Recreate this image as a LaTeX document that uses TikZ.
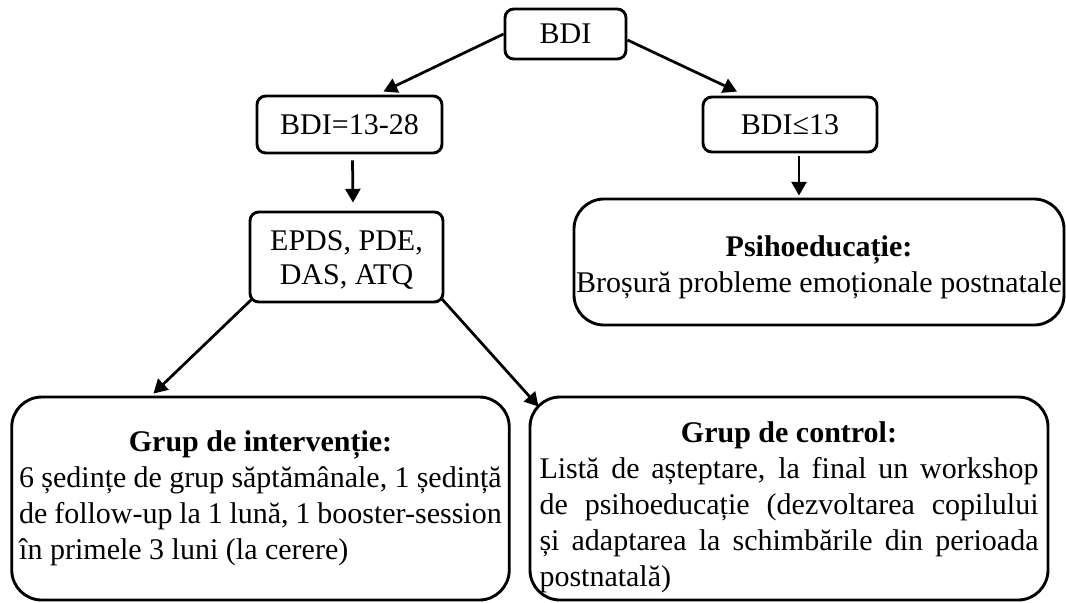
\documentclass[tikz,border=0pt]{standalone}
\usepackage{fontspec}
\setmainfont{Liberation Serif}
\usetikzlibrary{
    arrows.meta,
    positioning,
    calc
}
\tikzset{
    % Boxes
    box/.style={draw,rectangle,line width=1.15pt,rounded corners=3.5pt,align=center,inner sep=0pt},
    big box/.style={box,rounded corners=12pt},
    %
    % Arrows
    arrow tip/.tip={Triangle[length=5.5pt,width=6pt]},
    arr/.style={-{arrow tip},line width=1.1pt},
}
\tikzstyle{every node}=[font=\fontsize{12}{14.4}\selectfont]
% lines for the wide boxes: centred title, stretched line, plain last line
% (\spaceskip reset, so the font's own word spaces are used)
\newcommand{\titleline}[2][0pt]{\makebox[\hsize]{\spaceskip=0pt\rule{0pt}{#1}\textbf{#2}}}
\newcommand{\midline}[1]{\makebox[\hsize]{\spaceskip=0pt #1}}
\newcommand{\stretchline}[1]{\makebox[\hsize][s]{\spaceskip=0pt #1}}
\newcommand{\plainline}[1]{\makebox[\hsize][l]{\spaceskip=0pt #1}}

\begin{document}
\begin{tikzpicture}[x=0.4pt,y=-0.4pt]
    \useasboundingbox (0,0) rectangle (1066,602);

    \node[box,minimum width=48.4pt,minimum height=20pt] (bdi) at (565.5,34) {BDI};
    \node[box,minimum width=74pt,minimum height=22.8pt] (low) at (349.5,124.5) {BDI=13-28};
    \node[box,minimum width=69.6pt,minimum height=22pt] (high) at (790,124.5) {BDI≤13};
    \node[box,minimum width=77.2pt,minimum height=36pt,font=\fontsize{12}{13.4}\selectfont] (epds) at (346.5,257)
        {\rule{0pt}{10.5pt}EPDS, PDE,\\DAS, ATQ};

    \node[big box,minimum width=196pt,minimum height=50.4pt,text width=196pt] (psy) at (819,262)
        {\titleline[12.5pt]{Psihoeducație:}\\
         \midline{Broșură probleme emoționale postnatale}};

    \node[big box,minimum width=199pt,minimum height=81.2pt,text width=193pt] (interv) at (260.5,498.5)
        {\titleline{Grup de intervenție:}\\
         \stretchline{6 ședințe de grup săptămânale, 1 ședință}\\
         \stretchline{de follow-up la 1 lună, 1 booster-session}\\
         \plainline{în primele 3 luni (la cerere)}};

    \node[big box,minimum width=207.2pt,minimum height=81.2pt,text width=199.6pt] (ctrl) at (789,498.5)
        {\titleline[15pt]{Grup de control:}\\
         \stretchline{Listă de așteptare, la final un workshop}\\
         \stretchline{de psihoeducație (dezvoltarea copilului}\\
         \stretchline{și adaptarea la schimbările din perioada}\\
         \plainline{postnatală)}};

    % connectors
    \draw[arr] (bdi.west) -- ($(low.north)+(34,-3)$);
    \draw[arr] ($(bdi.east)+(0,6)$) -- ($(high.north)+(-53,-4)$);
    \draw[arr] ($(low.south)+(3,6)$) -- ($(epds.north)+(6.5,-8)$);
    \draw[arr] ($(high.south)+(9,3)$) -- ($(psy.north)+(-20,-2)$);
    \draw[arr] ($(epds.south west)+(3,-4)$) -- ($(interv.north)+(-107,-2)$);
    \draw[arr] ($(epds.south east)+(-3,-5)$) -- ($(ctrl.north west)+(10,11)$);
\end{tikzpicture}
\end{document}
